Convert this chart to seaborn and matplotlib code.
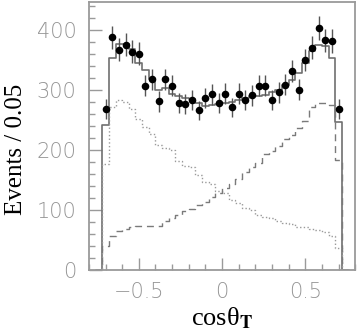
#!/usr/bin/env python3
"""
cos(theta_T) distribution: data points with fit total (solid)
and the two component shapes (dotted / dashed), bins of 0.04.
"""

import numpy as np
import pandas as pd
import matplotlib
matplotlib.use('Agg')
import matplotlib.pyplot as plt
from matplotlib.ticker import MultipleLocator
import seaborn as sns

# bin centres -0.70 ... 0.70
centers = np.round(np.arange(-0.70, 0.7001, 0.04), 2)

# measured events per bin
data_counts = [268, 388, 367, 376, 364, 361, 307, 318, 281, 318, 307, 278,
               277, 283, 266, 287, 293, 278, 294, 271, 294, 284, 291, 307,
               307, 283, 296, 309, 332, 301, 350, 371, 403, 383, 382, 269]

# total fit (solid)
fit_total = [242, 354, 377, 377, 369, 346, 334, 319, 300, 303, 293, 290,
             287, 285, 278, 273, 275, 276, 278, 280, 283, 287, 290, 290,
             291, 297, 300, 308, 317, 329, 346, 365, 376, 374, 354, 246]

# falling component (dotted)
comp_dotted = [177, 272, 283, 280, 268, 252, 239, 226, 208, 203, 200, 181,
               173, 172, 158, 146, 143, 131, 128, 117, 111, 103, 100, 91,
               88, 86, 81, 78, 76, 72, 71, 69, 66, 63, 56, 36]

# rising component (dashed)
comp_dashed = [40, 56, 65, 69, 71, 73, 74, 74, 74, 82, 87, 91,
               98, 101, 108, 113, 121, 128, 136, 143, 152, 164, 172, 178,
               194, 198, 206, 219, 225, 236, 248, 271, 279, 279, 275, 183]

df = pd.DataFrame({'x': centers, 'data': data_counts, 'fit': fit_total,
                   'dotted': comp_dotted, 'dashed': comp_dashed})
df['err'] = np.sqrt(df['data'])

# one empty bin on each side so the outlines drop to zero at +-0.72
edges = [float(e) for e in np.round(np.arange(-0.76, 0.7601, 0.04), 2)]

sns.set_theme(style='ticks')
plt.rcParams['mathtext.fontset'] = 'stix'

fig = plt.figure(figsize=(3.57, 3.30), dpi=100)
ax = fig.add_axes([0.249, 0.182, 0.746, 0.812])

sns.histplot(data=df, x='x', weights='fit', bins=edges, element='step',
             fill=False, color='#707070', linewidth=1.2, ax=ax)
sns.histplot(data=df, x='x', weights='dotted', bins=edges, element='step',
             fill=False, color='#9a9a9a', linewidth=1.0, linestyle=':', ax=ax)
sns.histplot(data=df, x='x', weights='dashed', bins=edges, element='step',
             fill=False, color='#7a7a7a', linewidth=1.0, linestyle=(0, (5, 3.5)),
             ax=ax)

ax.errorbar(df['x'], df['data'], yerr=df['err'], fmt='none',
            ecolor='#555555', elinewidth=1.0, capsize=0, zorder=4)
sns.scatterplot(data=df, x='x', y='data', color='black', s=30,
                edgecolor='black', linewidth=0, zorder=5, ax=ax)

ax.set_xlim(-0.8, 0.8)
ax.set_ylim(0, 447)

ax.xaxis.set_major_locator(MultipleLocator(0.5))
ax.xaxis.set_minor_locator(MultipleLocator(0.1))
ax.yaxis.set_major_locator(MultipleLocator(100))
ax.yaxis.set_minor_locator(MultipleLocator(20))

for side in ['top', 'right', 'left', 'bottom']:
    ax.spines[side].set_color('#9a9a9a')
    ax.spines[side].set_linewidth(1.3)

ax.tick_params(which='both', direction='in', color='#9a9a9a', width=1.0,
               top=False, right=False)
ax.tick_params(which='major', length=9, pad=9)
ax.tick_params(which='minor', length=4.5)

tick_font = ['DejaVu Sans']
ax.set_xticks([-0.5, 0, 0.5])
ax.set_xticklabels(['\u22120.5', '0', '0.5'])
for lab in ax.get_xticklabels() + ax.get_yticklabels():
    lab.set_family(tick_font)
    lab.set_fontsize(15)
    lab.set_fontweight('light')
    lab.set_color('#959595')

ax.set_ylabel('Events / 0.05', family=['Liberation Serif', 'DejaVu Serif'],
              fontsize=18, color='black')
ax.yaxis.set_label_coords(-0.232, 0.45)
ax.set_xlabel('cos\u03b8$_{\\mathbf{T}}$', family=['Liberation Serif', 'DejaVu Serif'],
              fontsize=19, color='black', labelpad=2)

fig.savefig('out.png', dpi=100)
plt.close(fig)
